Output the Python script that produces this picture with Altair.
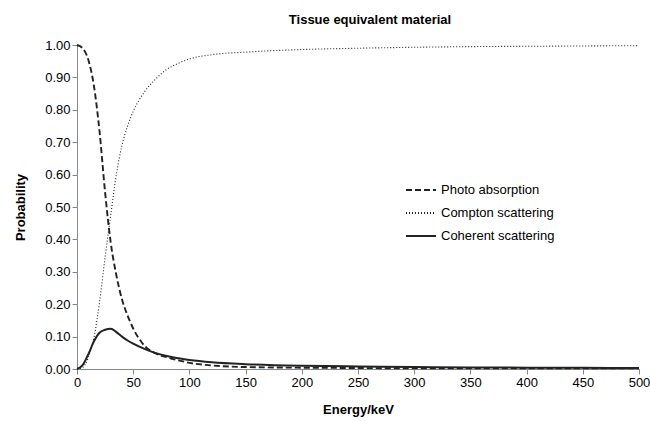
import altair as alt
import pandas as pd

energy = [0, 5, 10, 15, 20, 25, 30, 35, 40, 45, 50, 60, 70, 80, 90, 100, 120, 150, 200, 250, 300, 350, 400, 450, 500]
photo = [1.00, 0.99, 0.955, 0.875, 0.735, 0.545, 0.39, 0.29, 0.215, 0.165, 0.125, 0.072, 0.048, 0.036, 0.027, 0.019, 0.011, 0.006, 0.004, 0.003, 0.002, 0.002, 0.002, 0.002, 0.002]
compton = [0.0, 0.005, 0.035, 0.095, 0.205, 0.345, 0.475, 0.60, 0.69, 0.75, 0.795, 0.855, 0.895, 0.925, 0.943, 0.957, 0.97, 0.978, 0.986, 0.99, 0.993, 0.995, 0.996, 0.997, 0.998]
coherent = [0.0, 0.012, 0.045, 0.085, 0.112, 0.121, 0.124, 0.114, 0.10, 0.088, 0.078, 0.062, 0.049, 0.040, 0.033, 0.028, 0.021, 0.015, 0.010, 0.008, 0.006, 0.005, 0.004, 0.0035, 0.003]
series_names = ["Photo absorption", "Compton scattering", "Coherent scattering"]

rows = []
for name, vals in zip(series_names, [photo, compton, coherent]):
    for e, v in zip(energy, vals):
        rows.append({"Energy": e, "Probability": v, "Series": name})
df = pd.DataFrame(rows)

FONT = "Liberation Sans"

x_enc = alt.X("Energy:Q", title="Energy/keV",
              scale=alt.Scale(domain=[0, 500], nice=False),
              axis=alt.Axis(values=list(range(0, 501, 50)), grid=False, labelFlush=False,
                            domainColor="#888888", tickColor="#888888", tickSize=5,
                            labelFontSize=13, titleFontSize=13, titleFontWeight="bold",
                            labelColor="black", titleColor="black", titlePadding=14))
y_enc = alt.Y("Probability:Q", title="Probability",
              scale=alt.Scale(domain=[0, 1], nice=False),
              axis=alt.Axis(values=[i / 10 for i in range(11)], format=".2f", grid=False,
                            labelFlush=False, domainColor="#888888", tickColor="#888888",
                            tickSize=5, labelFontSize=13, titleFontSize=13,
                            titleFontWeight="bold", labelColor="black", titleColor="black",
                            titlePadding=17))
dash_enc = alt.StrokeDash("Series:N",
                          scale=alt.Scale(domain=series_names,
                                          range=[[6, 3], [1, 2], []]),
                          legend=alt.Legend(title=None, orient="none",
                                            legendX=328, legendY=129,
                                            symbolType="stroke", symbolSize=900,
                                            symbolStrokeColor="#222222",
                                            symbolStrokeWidth=2,
                                            labelFontSize=13, labelColor="black",
                                            labelOffset=4, rowPadding=0))

widths = [1.9, 1.1, 2.0]
base = alt.Chart(df)
layers = []
for name, w in zip(series_names, widths):
    layers.append(
        base.transform_filter(alt.datum.Series == name)
        .mark_line(interpolate="monotone", color="#222222", strokeWidth=w)
        .encode(x=x_enc, y=y_enc, strokeDash=dash_enc, order=alt.Order("Energy:Q"))
    )

chart = alt.layer(*layers).properties(
    width=562,
    height=324,
    title=alt.Title("Tissue equivalent material", fontSize=13, fontWeight="bold",
                    font=FONT, anchor="middle", offset=12, color="black", dx=12),
    autosize=alt.AutoSizeParams(type="none"),
    padding={"left": 77, "top": 45, "right": 11, "bottom": 52},
).configure(font=FONT).configure_view(stroke=None)

chart.save("out.html", embed_options={"renderer": "svg", "actions": False})
